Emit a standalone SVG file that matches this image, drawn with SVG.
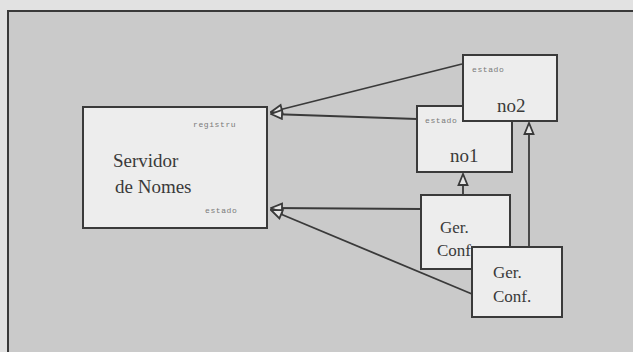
<svg xmlns="http://www.w3.org/2000/svg" width="633" height="352" viewBox="0 0 633 352">
<style>
.box{fill:#ededed;stroke:#3a3a3a;stroke-width:2}
.big{font-family:"Liberation Serif",serif;font-size:19px;fill:#3a3a3a}
.mid{font-family:"Liberation Serif",serif;font-size:17px;fill:#3a3a3a}
.tag{font-family:"Liberation Mono",monospace;font-size:8px;fill:#7a7a7a;letter-spacing:0.6px}
.con{fill:none;stroke:#3a3a3a;stroke-width:1.8}
</style>
<defs>
<marker id="tri" markerUnits="userSpaceOnUse" markerWidth="14" markerHeight="12" viewBox="0 0 14 12" refX="13" refY="6" orient="auto">
<path d="M13,6 L2,1.5 L2,10.5 Z" fill="#e6e6e6" stroke="#3a3a3a" stroke-width="1.8"/>
</marker>
</defs>
<rect x="0" y="0" width="633" height="352" fill="#e2e2e2"/>
<rect x="8" y="11" width="640" height="360" fill="#cacaca" stroke="#3a3a3a" stroke-width="2"/>
<g id="connectors">
<line class="con" x1="462" y1="64" x2="271" y2="112" marker-end="url(#tri)"/>
<line class="con" x1="417" y1="119" x2="271" y2="114" marker-end="url(#tri)"/>
<line class="con" x1="421" y1="209" x2="271" y2="208" marker-end="url(#tri)"/>
<line class="con" x1="472" y1="294" x2="271" y2="210" marker-end="url(#tri)"/>
<line class="con" x1="463" y1="195" x2="463" y2="174" marker-end="url(#tri)"/>
<line class="con" x1="529" y1="247" x2="529" y2="123" marker-end="url(#tri)"/>
</g>
<g id="servidor">
<rect class="box" x="83" y="107" width="184" height="121"/>
<text class="tag" x="193" y="127">registru</text>
<text class="big" x="113" y="167">Servidor</text>
<text class="big" x="115" y="193">de Nomes</text>
<text class="tag" x="205" y="213">estado</text>
</g>
<g id="no1">
<rect class="box" x="417" y="106" width="95" height="66"/>
<text class="tag" x="425" y="123">estado</text>
<text class="big" x="450" y="162">no1</text>
</g>
<g id="no2">
<rect class="box" x="463" y="55" width="94" height="66"/>
<text class="tag" x="472" y="72">estado</text>
<text class="big" x="497" y="112">no2</text>
</g>
<g id="gerconf1">
<rect class="box" x="421" y="195" width="89" height="74"/>
<text class="mid" x="440" y="233">Ger.</text>
<text class="mid" x="437" y="256">Conf.</text>
</g>
<g id="gerconf2">
<rect class="box" x="472" y="247" width="90" height="70"/>
<text class="mid" x="493" y="278">Ger.</text>
<text class="mid" x="493" y="302">Conf.</text>
</g>
</svg>
